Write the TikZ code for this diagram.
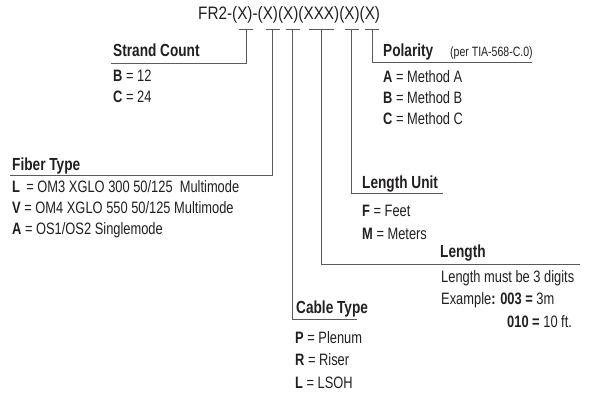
\documentclass[tikz,border=0pt]{standalone}
\usepackage{fontspec}
\setmainfont{Liberation Sans}[FakeStretch=0.78]
\newfontfamily\codefont{Liberation Sans}[FakeStretch=0.85]
\definecolor{linec}{HTML}{5A5A5A}
\definecolor{txt}{HTML}{231F20}
\tikzset{
  item/.style={anchor=base west, inner sep=0pt, text=txt, font=\fontsize{16.5}{19}\selectfont},
  head/.style={anchor=base west, inner sep=0pt, text=txt, font=\fontsize{17.5}{20}\selectfont\bfseries},
  small/.style={anchor=base west, inner sep=0pt, text=txt, font=\fontsize{13.5}{16}\selectfont},
  codetext/.style={anchor=base west, inner sep=0pt, text=txt, font=\codefont\fontsize{18}{21}\selectfont},
  conn/.style={draw=linec, line width=0.9pt},
}
\begin{document}
\begin{tikzpicture}[x=1pt,y=-1pt]
\useasboundingbox (0,0) rectangle (589,395);
% code line
\node[codetext] (code) at (198,20) {FR2-(X)-(X)(X)(XXX)(X)(X)};
% bar tops
\coordinate (b1) at (246,29.5);
\coordinate (b2) at (272.5,29.5);
\coordinate (b3) at (292.5,29.5);
\coordinate (b4) at (321.5,29.5);
\coordinate (b5) at (351.5,29.5);
\coordinate (b6) at (372,29.5);
\foreach \b in {b1,b2,b3,b5,b6}{
  \draw[conn] ([xshift=-7pt]\b) -- ([xshift=7pt]\b);
}
\draw[conn] ([xshift=-12.5pt]b4) -- ([xshift=12.5pt]b4);

% Strand count
\node[head] (sc) at (113,57) {Strand Count};
\coordinate (sce) at (111,63);
\draw[conn] (b1) |- (sce);
\node[item] (sc1) at (113,82) {\textbf{B} = 12};
\node[item] (sc2) at (113,103) {\textbf{C} = 24};

% Fiber type
\node[head] (ft) at (12,171) {Fiber Type};
\coordinate (fte) at (10,175);
\draw[conn] (b2) |- (fte);
\node[item] (ft1) at (12,193) {\textbf{L} \,= OM3 XGLO 300 50/125 \ Multimode};
\node[item] (ft2) at (12,214) {\textbf{V} = OM4 XGLO 550 50/125 Multimode};
\node[item] (ft3) at (12,234.5) {\textbf{A} = OS1/OS2 Singlemode};

% Cable type
\node[head] (ct) at (296,313) {Cable Type};
\coordinate (cte) at (357,319.5);
\draw[conn] (b3) |- (cte);
\node[item] (ct1) at (295,343) {\textbf{P} = Plenum};
\node[item] (ct2) at (295,365.5) {\textbf{R} = Riser};
\node[item] (ct3) at (295,388) {\textbf{L} = LSOH};

% Length
\node[head] (ln) at (440,258) {Length};
\coordinate (lne) at (580,264);
\draw[conn] (b4) |- (lne);
\node[item] (ln1) at (441,282.5) {Length must be 3 digits};
\node[item] (ln2) at (441,305) {Example\textbf{: 003 =} 3m};
\node[item] (ln3) at (507,327) {\textbf{010 =} 10 ft.};

% Length unit
\node[head] (lu) at (362,189) {Length Unit};
\coordinate (lue) at (443,193.5);
\draw[conn] (b5) |- (lue);
\node[item] (lu1) at (362,217) {\textbf{F} = Feet};
\node[item] (lu2) at (362,240) {\textbf{M} = Meters};

% Polarity
\node[head] (po) at (383,57) {Polarity};
\node[small] (pon) at (450,57) {(per TIA-568-C.0)};
\coordinate (poe) at (532,62);
\draw[conn] (b6) |- (poe);
\node[item] (po1) at (383,83) {\textbf{A} = Method A};
\node[item] (po2) at (383,104) {\textbf{B} = Method B};
\node[item] (po3) at (383,125) {\textbf{C} = Method C};
\end{tikzpicture}
\end{document}
